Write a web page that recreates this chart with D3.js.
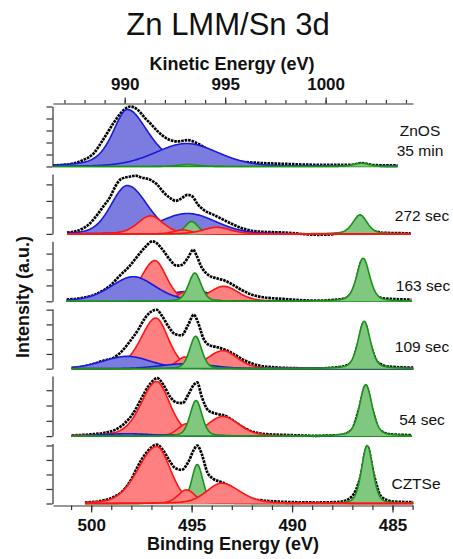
<!DOCTYPE html>
<html lang="en">
<head>
<meta charset="utf-8">
<title>Zn LMM/Sn 3d</title>
<script src="https://cdn.jsdelivr.net/npm/d3@7/dist/d3.min.js"></script>
<style>
  body { margin: 0; background: #fff; }
  text { font-family: "Liberation Sans", Arial, Helvetica, sans-serif; fill: #111; }
</style>
</head>
<body>
<script>

  // ---- data ----
  var panelNames = ["ZnOS 35 min", "272 sec", "163 sec", "109 sec", "54 sec", "CZTSe"];
  var panelLabels = [["ZnOS", "35 min"], ["272 sec"], ["163 sec"], ["109 sec"], ["54 sec"], ["CZTSe"]];

  var beTickLabels = [500, 495, 490, 485];
  var keTickLabels = [990, 995, 1000];
  var keOffset = 1488.33;   // KE = keOffset - BE, as printed on the top axis

  // measured spectra: [binding energy (eV), intensity (a.u., panel max ~100)]
  var scanZnOS = [[501.9,1.7],[501.05,3.9],[500.4,10.6],[499.9,21],[499.4,45],[498.9,71.7],[498.55,88],
    [498.05,100],[497.7,95],[497.3,80],[497.05,71.7],[496.7,59],[496.2,46],[495.7,41.7],[495.2,44],
    [494.7,38.3],[494.2,28.3],[493.7,19.4],[493.2,12.8],[492.55,8.3],[491.7,6.1],[490.4,4.4],
    [488.7,2.8],[487.05,2.8],[486.55,5.6],[485.9,2.2],[484.75,1.7]];
  var scan272 = [[501.2,2.2],[500.7,5],[500.4,9.4],[500.05,17.8],[499.7,31.7],[499.4,45.6],[499.05,62],
    [498.8,79],[498.5,91.7],[498.05,95.6],[497.8,97],[497.5,94],[497.05,90],[496.7,81.7],[496.4,69.4],
    [496.05,59.4],[495.8,55],[495.55,58.3],[495.2,65],[494.95,62],[494.7,49.4],[494.4,40],[493.9,31.7],
    [493.4,23.3],[492.9,15],[492.4,8.3],[491.7,3.9],[490.4,2.2],[488.7,-1.5],[487.7,0.5],[487.05,5],
    [486.62,30],[486.05,6.7],[485.4,1.7],[484.1,1]];
  var scan163 = [[501.22,2.8],[500.56,5],[500.06,8.3],[499.56,15],[499.06,26],[498.57,42.8],[498.07,59.4],
    [497.74,73.3],[497.32,90],[496.95,100],[496.74,97],[496.41,84.4],[496.08,69.4],[495.75,59.4],
    [495.5,60.6],[495.17,73.3],[494.92,86.1],[494.75,76],[494.5,56.7],[494.17,43.9],[493.76,38.3],
    [493.34,34.4],[492.93,27.2],[492.51,18.9],[492.1,12.2],[491.44,6.7],[490.44,3.9],[488.78,1.1],
    [487.46,3.9],[486.96,18],[486.46,70],[486.05,18],[485.47,5],[484.06,2.8]];
  var scan109 = [[500.97,1.1],[500.39,3.3],[499.9,7.8],[499.4,13.3],[498.9,17.8],[498.48,28.9],[498.07,45.6],
    [497.66,65],[497.32,84.4],[496.99,95.6],[496.74,98.3],[496.49,88.9],[496.16,70.6],[495.83,57.8],
    [495.5,55.6],[495.17,73.3],[494.89,90],[494.67,76],[494.42,51],[494.09,38.9],[493.68,35.6],
    [493.26,30.6],[492.85,23.3],[492.43,15],[491.93,7.8],[491.27,3.3],[490.11,1.1],[488.78,0.5],
    [487.62,2.8],[487.04,10],[486.71,42],[486.41,77],[486.1,40],[485.72,10],[485.13,3.3],[483.97,1.7]];
  var scan54 = [[500.97,1.1],[500.06,2.8],[499.23,6.1],[498.73,11.7],[498.32,21.7],[497.9,38.3],[497.49,63.3],
    [497.16,82.8],[496.91,92.8],[496.71,96.7],[496.41,85.6],[496.08,66],[495.75,56],[495.45,55],
    [495.17,68.9],[494.89,85.6],[494.72,89.4],[494.5,66],[494.17,42.8],[493.76,37.2],[493.34,33.9],
    [492.93,25.6],[492.51,16.1],[492.02,7.8],[491.27,3.3],[490.11,1.7],[488.78,0.5],[487.62,1.7],
    [487.04,10],[486.66,46],[486.33,84],[486.0,43],[485.63,10],[485.05,2.8],[484.06,1.7]];
  var scanCZTSe = [[500.31,1.7],[499.56,3.9],[498.9,10.6],[498.4,21.7],[497.99,41],[497.66,63.3],[497.32,81.7],
    [496.99,93.9],[496.74,98.3],[496.41,88.3],[496.11,71.7],[495.83,59.4],[495.5,56.1],[495.17,68.9],
    [494.89,89.4],[494.72,96.7],[494.5,82.8],[494.22,52.2],[493.92,41.1],[493.51,35.6],[493.09,28.3],
    [492.68,18.9],[492.18,9.4],[491.44,5],[490.44,2.8],[488.78,1.7],[487.62,2.8],[487.04,11],
    [486.59,45],[486.26,95],[485.93,48],[485.55,11],[484.97,3.3],[483.97,2.2]];

  // fitted components, in drawing order:
  // [phase, centre (eV), height, half width on high-BE side, half width on low-BE side, lorentz fraction]
  var peaksZnOS = [["blue",498.2,95,0.86,1.24,0.5],["blue",495.25,38.3,1.85,1.85,0.2],
    ["green",495.2,3.3,0.6,0.6,0.3],["green",486.55,5.5,0.45,0.45,0.3]];
  var peaks272 = [["blue",498.2,80.6,0.95,1.17,0.2],["blue",495.2,34,1.65,1.65,0.1],
    ["green",495.0,20.6,0.38,0.38,0.3],["green",486.62,31.7,0.42,0.42,0.4],
    ["red",497.05,30,0.75,0.75,0.3],["red",495.45,6.7,0.5,0.5,0.3],["red",493.75,11,0.8,0.8,0.3]];
  var peaks163 = [["blue",495.0,17,1.6,1.6,0.1],["red",496.83,67.8,0.8,0.68,0.3],
    ["red",495.25,16,0.55,0.55,0.3],["red",493.4,25,0.85,0.85,0.3],["blue",497.9,41,1.33,1.3,0.3],
    ["green",494.84,47,0.37,0.37,0.3],["green",486.46,71.7,0.38,0.38,0.4]];
  var peaks109 = [["red",496.78,84.4,0.88,0.73,0.3],["red",495.33,19.4,0.5,0.5,0.3],
    ["red",493.45,30,0.89,0.85,0.3],["blue",498.2,20.6,1.45,1.37,0.2],["blue",495.25,8.3,1.5,1.5,0.1],
    ["green",494.8,54,0.35,0.35,0.3],["green",486.41,79,0.36,0.36,0.4]];
  var peaks54 = [["red",496.75,91,0.9,0.78,0.3],["red",495.25,20.6,0.5,0.5,0.3],
    ["red",493.45,32.8,0.89,0.94,0.3],["blue",498.2,3.9,1.5,1.5,0.2],["blue",495.3,2.2,1.5,1.5,0.1],
    ["green",494.78,59.4,0.35,0.35,0.3],["green",486.33,85.6,0.37,0.37,0.4]];
  var peaksCZTSe = [["green",494.72,65,0.33,0.33,0.3],["green",486.26,96.7,0.33,0.33,0.3],
    ["red",496.74,95,1.1,0.8,0.2],["red",495.25,22.8,0.5,0.5,0.3],["red",493.51,33.9,0.88,1.08,0.3]];

  var tickSteps = [20, 27.5, 26.5, 24.6, 25.5, 24.2];

  // ---- layout ----
  var labelX = [420, 422, 423, 422, 422, 416];
  var labelLevels = [[50, 18], [22], [17.5], [27.5], [18.5], [25]];

  var colors = {
    blue:  { fill: "#7c7ce0", stroke: "#1a1ad8" },
    red:   { fill: "#ff8080", stroke: "#ff1414" },
    green: { fill: "#80c880", stroke: "#1a921a" }
  };

  var panels = [
    { name: panelNames[0], scan: scanZnOS,  peaks: peaksZnOS },
    { name: panelNames[1], scan: scan272,   peaks: peaks272 },
    { name: panelNames[2], scan: scan163,   peaks: peaks163 },
    { name: panelNames[3], scan: scan109,   peaks: peaks109 },
    { name: panelNames[4], scan: scan54,    peaks: peaks54 },
    { name: panelNames[5], scan: scanCZTSe, peaks: peaksCZTSe }
  ];

  var width = 453, height = 559;

  var svg = d3.select("body").append("svg")
              .attr("width", width)
              .attr("height", height);

  var x = d3.scaleLinear().domain([501.9, 483.98]).range([53, 413]);
  var xTop = d3.scaleLinear().domain([keOffset - 501.9, keOffset - 483.98]).range([53, 413]);

  var band = d3.scaleBand()
               .domain(panelNames)
               .range([106.5, 503.5])
               .paddingInner(0.11);

  function peakValue(p, be) {
    var d = be - p[1];
    var w = d > 0 ? p[3] : p[4];
    var u = d / w;
    return p[2] * (p[5] / (1 + u * u) + (1 - p[5]) * Math.exp(-Math.LN2 * u * u));
  }

  panels.forEach(function (panel, i) {
    var top = band(panel.name);
    var y = d3.scaleLinear().domain([0, 100]).range([top + band.bandwidth(), top]);
    var g = svg.append("g").attr("class", "panel");

    var hi = panel.scan[0][0], lo = panel.scan[panel.scan.length - 1][0];
    var grid = d3.range(hi, lo, -0.04).concat([lo]);

    // measured data (dotted trace, drawn under the components)
    var line = d3.line()
                 .x(function (d) { return x(d[0]); })
                 .y(function (d) { return y(d[1]); })
                 .curve(d3.curveMonotoneX);
    g.append("path")
     .datum(panel.scan)
     .attr("d", line)
     .attr("fill", "none")
     .attr("stroke", "#000")
     .attr("stroke-width", 2.7)
     .attr("stroke-dasharray", "2.6,0.9");

    var area = d3.area()
                 .x(function (d) { return x(d[0]); })
                 .y0(y(0))
                 .y1(function (d) { return y(d[1]); })
                 .curve(d3.curveMonotoneX);

    panel.peaks.forEach(function (p) {
      var pts = grid.map(function (be) { return [be, peakValue(p, be)]; });
      g.append("path")
       .datum(pts)
       .attr("d", area)
       .attr("fill", colors[p[0]].fill)
       .attr("stroke", "none");
      g.append("path")
       .datum(pts)
       .attr("d", line)
       .attr("fill", "none")
       .attr("stroke", colors[p[0]].stroke)
       .attr("stroke-width", 1.6);
    });

    // left axis, unlabeled ticks
    var axis = g.append("g")
                .attr("transform", "translate(52.5,0)")
                .call(d3.axisLeft(y)
                        .tickValues(d3.range(0, 100.01, tickSteps[i]))
                        .tickSize(6)
                        .tickSizeOuter(0)
                        .tickFormat(""));
    axis.selectAll("path, line").attr("stroke", "#333").attr("stroke-width", 1.2);

    // panel label
    panelLabels[i].forEach(function (txt, k) {
      g.append("text")
       .attr("x", labelX[i])
       .attr("y", y(labelLevels[i][k]))
       .attr("text-anchor", "middle")
       .style("font-size", "15.5px")
       .text(txt);
    });
  });

  // bottom axis (binding energy)
  var bottomMinor = svg.append("g")
     .attr("transform", "translate(0,505.5)")
     .call(d3.axisBottom(x).tickValues(d3.range(484, 502)).tickSize(4.5).tickSizeOuter(0).tickFormat(""));
  var bottomMajor = svg.append("g")
     .attr("transform", "translate(0,505.5)")
     .call(d3.axisBottom(x).tickValues(beTickLabels).tickSize(7).tickSizeOuter(0)
             .tickPadding(6.5).tickFormat(d3.format("d")));
  bottomMajor.select(".domain").remove();

  // top axis (kinetic energy)
  var topMinor = svg.append("g")
     .attr("transform", "translate(0,103.5)")
     .call(d3.axisTop(xTop).tickValues(d3.range(987, 1005)).tickSize(3.5).tickSizeOuter(0).tickFormat(""));
  var topMajor = svg.append("g")
     .attr("transform", "translate(0,103.5)")
     .call(d3.axisTop(xTop).tickValues(keTickLabels).tickSize(6).tickSizeOuter(0)
             .tickPadding(7.5).tickFormat(d3.format("d")));
  topMajor.select(".domain").remove();

  svg.selectAll(".tick line, .domain").attr("stroke", "#333").attr("stroke-width", 1.2);
  [bottomMajor, topMajor].forEach(function (a) {
    a.selectAll("text")
     .attr("fill", "#111")
     .style("font-family", "'Liberation Sans', Arial, sans-serif")
     .style("font-size", "17px")
     .style("font-weight", "bold");
  });

  // titles
  svg.append("text")
     .attr("x", 228).attr("y", 35)
     .attr("text-anchor", "middle")
     .style("font-size", "31px")
     .text("Zn LMM/Sn 3d");

  svg.append("text")
     .attr("x", 232).attr("y", 69.5)
     .attr("text-anchor", "middle")
     .style("font-size", "18px").style("font-weight", "bold")
     .text("Kinetic Energy (eV)");

  svg.append("text")
     .attr("x", 233).attr("y", 550)
     .attr("text-anchor", "middle")
     .style("font-size", "18px").style("font-weight", "bold")
     .text("Binding Energy (eV)");

  svg.append("text")
     .attr("transform", "translate(28.5,297) rotate(-90)")
     .attr("text-anchor", "middle")
     .style("font-size", "18px").style("font-weight", "bold")
     .text("Intensity (a.u.)");

</script>
</body>
</html>
